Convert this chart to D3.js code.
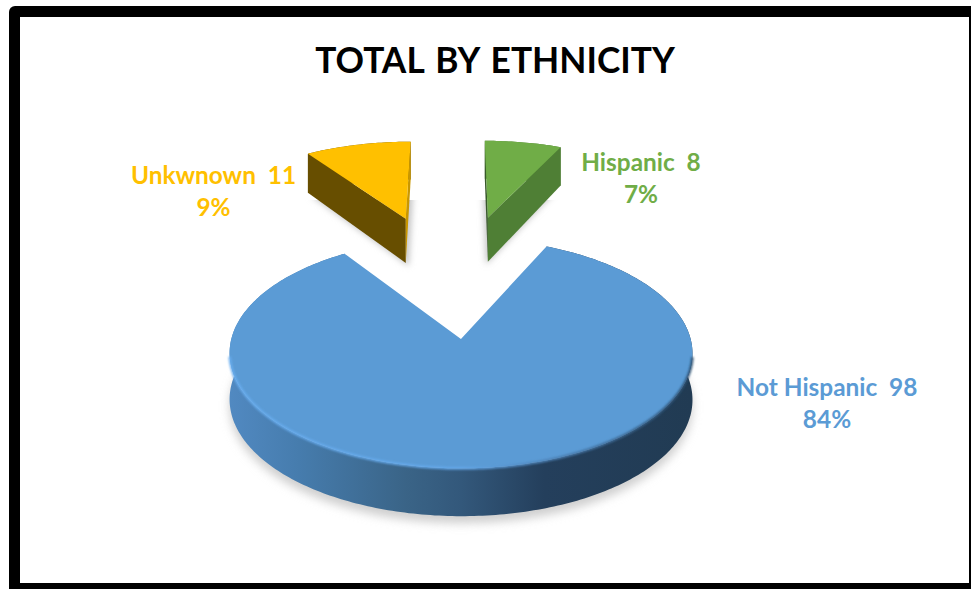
<!DOCTYPE html>
<html>
<head>
<meta charset="utf-8">
<script src="https://cdn.jsdelivr.net/npm/d3@7"></script>
<style>
html, body { margin: 0; padding: 0; background: #fff; overflow: hidden; }
svg { display: block; }
text { font-family: Lato, "Open Sans", sans-serif; font-weight: 700; white-space: pre; }
</style>
</head>
<body>
<div id="chart"></div>
<script>
const titleText = "TOTAL BY ETHNICITY";
const categories = ["Hispanic", "Not Hispanic", "Unkwnown"];
const values = [8, 98, 11];
const percents = ["7%", "84%", "9%"];

const topColors = ["#70ad47", "#5b9bd5", "#ffc000"];
const frontColors = ["#4f7f35", "#2f5270", "#674e00"];
const sliverColors = ["#38592a", "#2f5270", "#c99700"];

// how far each slice is pulled out, in pie radii on the pie's own plane
const explode = [[0.172, 0.603], [0.034, -0.631], [-0.24, 0.59]];
const labelPos = [[641, 171, 203], [827, 396, 428], [213.5, 184, 216]];

const width = 971, height = 589;

// perspective of the tilted pie plane
const cam = { a: 213, xc: 453.4, skew: 52.5, k: 0.115, b: -66.1, yc: 272.7 };
function project(px, py) {
    const w = 1 + cam.k * py;
    return [(cam.a * px + cam.xc + cam.skew * py) / w, (cam.b * py + cam.yc) / w, w];
}
const depth = d3.scaleLinear().domain([0.8, 1.07, 1.2]).range([48, 44, 37]);

const svg = d3.select("#chart").append("svg")
    .attr("width", width)
    .attr("height", height);

const defs = svg.append("defs");

const wallGrad = defs.append("linearGradient")
    .attr("id", "wallGrad")
    .attr("gradientUnits", "userSpaceOnUse")
    .attr("x1", 230).attr("x2", 692).attr("y1", 0).attr("y2", 0);
[[0, "#5189c1"], [0.15, "#467cad"], [0.38, "#3a6487"], [0.5, "#33587b"], [0.68, "#243f5c"], [1, "#213b53"]]
    .forEach(s => wallGrad.append("stop").attr("offset", s[0]).attr("stop-color", s[1]));

const rimGrad = defs.append("linearGradient")
    .attr("id", "rimGrad")
    .attr("gradientUnits", "userSpaceOnUse")
    .attr("x1", 230).attr("x2", 692).attr("y1", 0).attr("y2", 0);
[[0, "#69aef0"], [0.5, "#64a8ea"], [0.68, "#4d83b8"], [1, "#2c4f70"]]
    .forEach(s => rimGrad.append("stop").attr("offset", s[0]).attr("stop-color", s[1]));

defs.append("filter").attr("id", "soft")
    .attr("x", "-20%").attr("y", "-20%").attr("width", "140%").attr("height", "140%")
    .append("feGaussianBlur").attr("stdDeviation", 5);
defs.append("filter").attr("id", "softSmall")
    .attr("x", "-20%").attr("y", "-20%").attr("width", "140%").attr("height", "140%")
    .append("feGaussianBlur").attr("stdDeviation", 3);
defs.append("filter").attr("id", "rimBlur")
    .attr("x", "-5%").attr("y", "-5%").attr("width", "110%").attr("height", "110%")
    .append("feGaussianBlur").attr("stdDeviation", 0.8);

// shadows of the two small slices only start below this line
defs.append("clipPath").attr("id", "smallShadowClip")
    .append("rect").attr("x", 0).attr("y", 200).attr("width", width).attr("height", 200);

// frame
svg.append("rect")
    .attr("x", 9).attr("y", 6)
    .attr("width", width).attr("height", height)
    .attr("rx", 6)
    .attr("fill", "#000");
svg.append("rect")
    .attr("x", 20).attr("y", 17)
    .attr("width", 949).attr("height", 566)
    .attr("fill", "#fff");

svg.append("text")
    .attr("x", 495).attr("y", 73)
    .attr("text-anchor", "middle")
    .attr("font-size", 35.3)
    .attr("word-spacing", 3)
    .attr("fill", "#000")
    .text(titleText);

const pie = d3.pie().sort(null).startAngle(0).endAngle(2 * Math.PI);
const arcs = pie(values);

function slicePoint(i, angle, r) {
    return project(explode[i][0] + r * Math.sin(angle), explode[i][1] + r * Math.cos(angle));
}
function arcPoints(d, i) {
    const steps = Math.ceil((d.endAngle - d.startAngle) * 60);
    return d3.range(steps + 1).map(s =>
        slicePoint(i, d.startAngle + (d.endAngle - d.startAngle) * s / steps, 1));
}
const lower = p => [p[0], p[1] + depth(p[2])];
const line = d3.line();
const xy = p => [p[0], p[1]];

const slices = svg.selectAll(".slice")
    .data(arcs)
    .enter().append("g")
    .attr("class", "slice");

// soft shadow under the base of every slice
slices.each(function (d, i) {
    const apex = slicePoint(i, 0, 0);
    const outline = [apex].concat(arcPoints(d, i)).map(lower);
    const g = d3.select(this);
    if (i === 1) {
        g.append("path")
            .attr("d", line(outline.map(p => [p[0], p[1] + 7])) + "Z")
            .attr("fill", "#cfcfcf")
            .attr("filter", "url(#soft)");
    } else {
        g.append("g").attr("clip-path", "url(#smallShadowClip)")
            .append("path")
            .attr("d", line(outline.map(p => [p[0] + (i === 0 ? -2 : 3), p[1] + 3])) + "Z")
            .attr("fill", "#c4c4c4")
            .attr("filter", "url(#softSmall)");
    }
});

// walls: outer curve first, then the two cut faces, top face last
slices.each(function (d, i) {
    const g = d3.select(this);
    const pts = arcPoints(d, i);
    const apex = slicePoint(i, 0, 0);
    const wall = pts.map(xy).concat(pts.slice().reverse().map(lower));
    g.append("path")
        .attr("d", line(wall) + "Z")
        .attr("fill", i === 1 ? "url(#wallGrad)" : frontColors[i]);

    const first = pts[0], last = pts[pts.length - 1];
    if (i !== 1) {
        const faces = i === 0
            ? [[first, sliverColors[0]], [last, frontColors[0]]]
            : [[first, frontColors[2]], [last, sliverColors[2]]];
        faces.forEach(f => {
            g.append("path")
                .attr("d", line([xy(apex), xy(f[0]), lower(f[0]), lower(apex)]) + "Z")
                .attr("fill", f[1]);
        });
    }

    g.append("path")
        .attr("d", line([xy(apex)].concat(pts.map(xy))) + "Z")
        .attr("fill", topColors[i]);

    if (i === 1) {
        // bevel along the front edge of the big slice
        const front = pts.filter(p => p[1] > 356);
        g.append("path")
            .attr("d", line(front.map(xy)))
            .attr("fill", "none")
            .attr("stroke", "url(#rimGrad)")
            .attr("stroke-width", 2.5)
            .attr("filter", "url(#rimBlur)");
    }
});

// data labels
const labels = svg.selectAll(".label")
    .data(arcs)
    .enter().append("text")
    .attr("class", "label")
    .attr("text-anchor", "middle")
    .attr("font-size", 24.4)
    .attr("fill", (d, i) => topColors[i]);
labels.append("tspan")
    .attr("x", (d, i) => labelPos[i][0])
    .attr("y", (d, i) => labelPos[i][1])
    .text((d, i) => categories[i] + "  " + d.value);
labels.append("tspan")
    .attr("x", (d, i) => labelPos[i][0])
    .attr("y", (d, i) => labelPos[i][2])
    .text((d, i) => percents[i]);
</script>
</body>
</html>
